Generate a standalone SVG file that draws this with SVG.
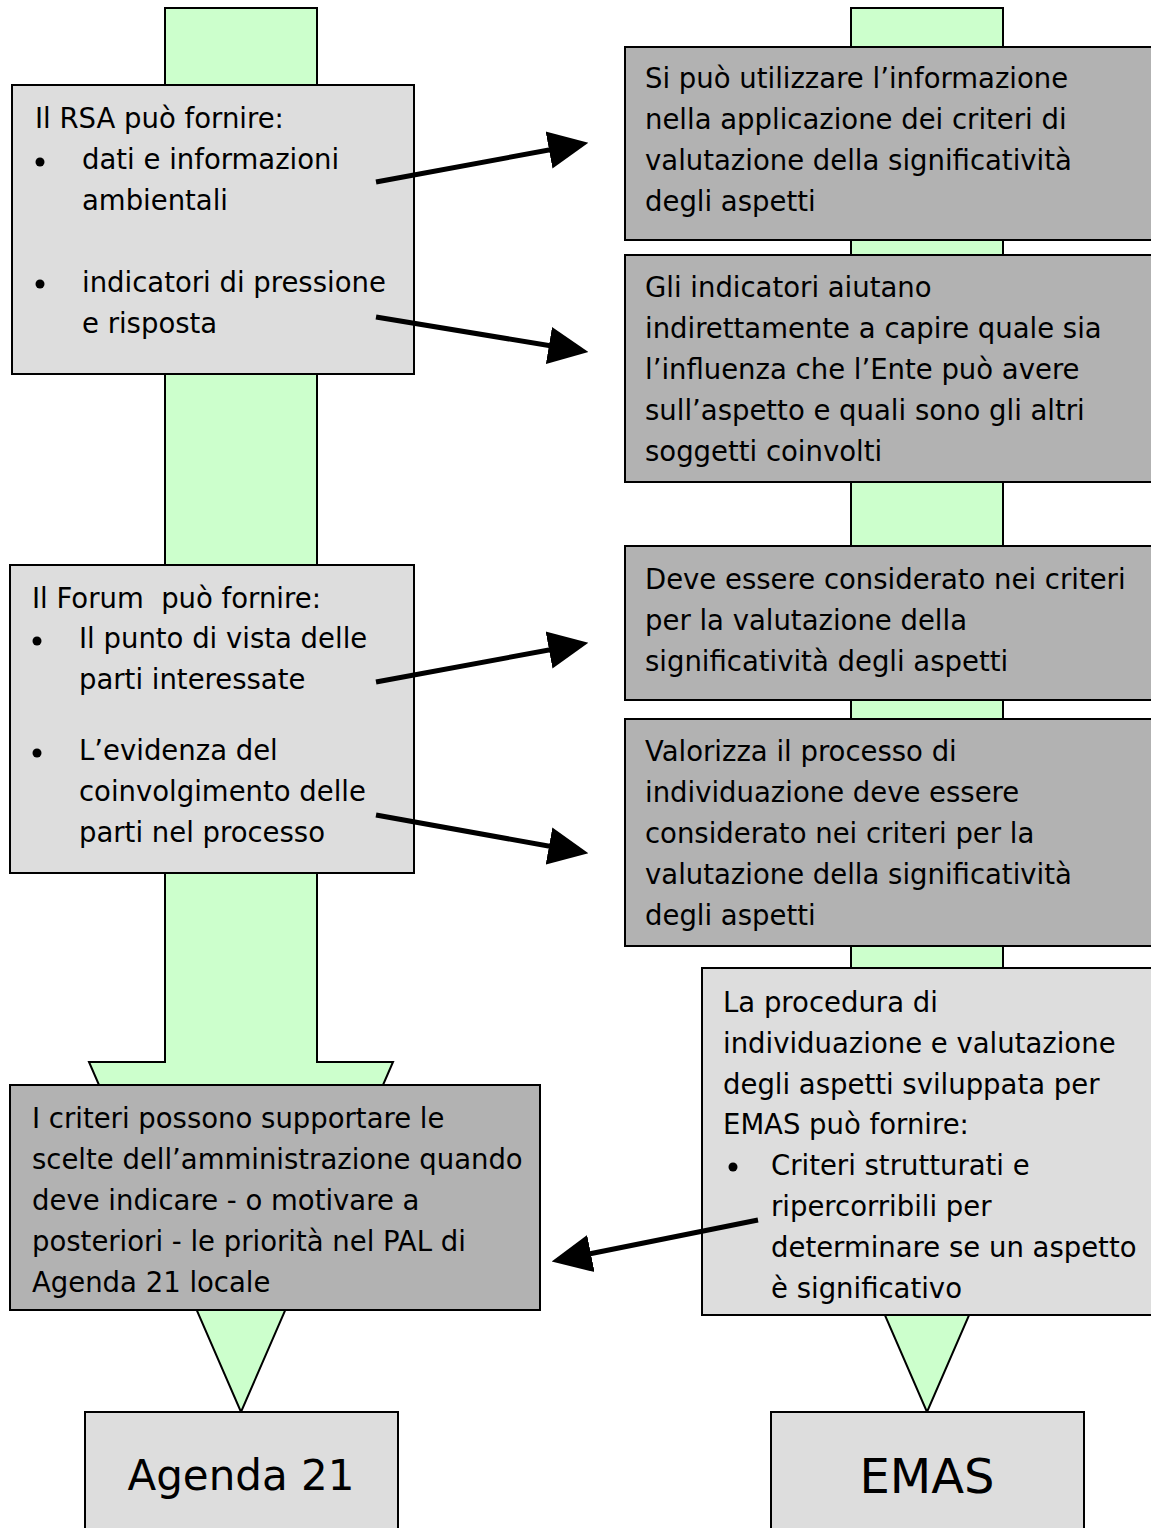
<svg xmlns="http://www.w3.org/2000/svg" width="1151" height="1528" viewBox="0 0 1151 1528">
  <style>
    .flow { fill: #ccffcc; stroke: #000; stroke-width: 2; stroke-linejoin: miter; }
    .light { fill: #dddddd; stroke: #000; stroke-width: 2; }
    .dark { fill: #b2b2b2; stroke: #000; stroke-width: 2; }
    .txt { font-family: "Comic Sans MS", "DejaVu Sans", sans-serif; font-size: 27.5px; fill: #000; white-space: pre; }
    .big { font-family: "Comic Sans MS", "DejaVu Sans", sans-serif; fill: #000; text-anchor: middle; }
    .dot { fill: #000; }
    .link { stroke: #000; stroke-width: 5; fill: none; marker-end: url(#head); }
  </style>
  <defs>
    <marker id="head" markerUnits="userSpaceOnUse" markerWidth="40" markerHeight="40" viewBox="0 0 35 33" refX="24" refY="16.5" orient="auto">
      <path d="M0,0 L35,16.5 L0,33 Z" fill="#000"/>
    </marker>
  </defs>

  <!-- wide flow arrows behind the boxes -->
  <g id="flow-agenda21">
    <polygon class="flow" points="165,8 317,8 317,1062 393,1062 241,1412 89,1062 165,1062"/>
  </g>
  <g id="flow-emas">
    <polygon class="flow" points="851,8 1003,8 1003,1062 1079,1062 927,1412 775,1062 851,1062"/>
  </g>

  <!-- left column -->
  <g id="rsa">
    <rect class="light" x="12" y="85" width="402" height="289"/>
    <text class="txt" x="35" y="128">Il RSA può fornire:</text>
    <circle class="dot" cx="40" cy="162" r="4.5"/>
    <text class="txt" x="82" y="169">dati e informazioni</text>
    <text class="txt" x="82" y="210">ambientali</text>
    <circle class="dot" cx="40" cy="284" r="4.5"/>
    <text class="txt" x="82" y="292">indicatori di pressione</text>
    <text class="txt" x="82" y="333">e risposta</text>
  </g>

  <g id="forum">
    <rect class="light" x="10" y="565" width="404" height="308"/>
    <text class="txt" x="32" y="608" xml:space="preserve">Il Forum  può fornire:</text>
    <circle class="dot" cx="37" cy="641" r="4.5"/>
    <text class="txt" x="79" y="648">Il punto di vista delle</text>
    <text class="txt" x="79" y="689">parti interessate</text>
    <circle class="dot" cx="37" cy="753" r="4.5"/>
    <text class="txt" x="79" y="760">L’evidenza del</text>
    <text class="txt" x="79" y="801">coinvolgimento delle</text>
    <text class="txt" x="79" y="842">parti nel processo</text>
  </g>

  <g id="criteri-pal">
    <rect class="dark" x="10" y="1085" width="530" height="225"/>
    <text class="txt" x="32" y="1128">I criteri possono supportare le</text>
    <text class="txt" x="32" y="1169">scelte dell’amministrazione quando</text>
    <text class="txt" x="32" y="1210">deve indicare - o motivare a</text>
    <text class="txt" x="32" y="1251">posteriori - le priorità nel PAL di</text>
    <text class="txt" x="32" y="1292">Agenda 21 locale</text>
  </g>

  <g id="agenda21">
    <rect class="light" x="85" y="1412" width="313" height="130"/>
    <text class="big" x="241" y="1490" font-size="42">Agenda 21</text>
  </g>

  <!-- right column -->
  <g id="uso-informazione">
    <rect class="dark" x="625" y="47" width="535" height="193"/>
    <text class="txt" x="645" y="88">Si può utilizzare l’informazione</text>
    <text class="txt" x="645" y="129">nella applicazione dei criteri di</text>
    <text class="txt" x="645" y="170">valutazione della significatività</text>
    <text class="txt" x="645" y="211">degli aspetti</text>
  </g>

  <g id="indicatori">
    <rect class="dark" x="625" y="255" width="535" height="227"/>
    <text class="txt" x="645" y="297">Gli indicatori aiutano</text>
    <text class="txt" x="645" y="338">indirettamente a capire quale sia</text>
    <text class="txt" x="645" y="379">l’influenza che l’Ente può avere</text>
    <text class="txt" x="645" y="420">sull’aspetto e quali sono gli altri</text>
    <text class="txt" x="645" y="461">soggetti coinvolti</text>
  </g>

  <g id="punto-di-vista">
    <rect class="dark" x="625" y="546" width="535" height="154"/>
    <text class="txt" x="645" y="589">Deve essere considerato nei criteri</text>
    <text class="txt" x="645" y="630">per la valutazione della</text>
    <text class="txt" x="645" y="671">significatività degli aspetti</text>
  </g>

  <g id="coinvolgimento">
    <rect class="dark" x="625" y="719" width="535" height="227"/>
    <text class="txt" x="645" y="761">Valorizza il processo di</text>
    <text class="txt" x="645" y="802">individuazione deve essere</text>
    <text class="txt" x="645" y="843">considerato nei criteri per la</text>
    <text class="txt" x="645" y="884">valutazione della significatività</text>
    <text class="txt" x="645" y="925">degli aspetti</text>
  </g>

  <g id="procedura-emas">
    <rect class="light" x="702" y="968" width="458" height="347"/>
    <text class="txt" x="723" y="1012">La procedura di</text>
    <text class="txt" x="723" y="1053">individuazione e valutazione</text>
    <text class="txt" x="723" y="1094">degli aspetti sviluppata per</text>
    <text class="txt" x="723" y="1134">EMAS può fornire:</text>
    <circle class="dot" cx="733" cy="1167" r="4.5"/>
    <text class="txt" x="771" y="1175">Criteri strutturati e</text>
    <text class="txt" x="771" y="1216">ripercorribili per</text>
    <text class="txt" x="771" y="1257">determinare se un aspetto</text>
    <text class="txt" x="771" y="1298">è significativo</text>
  </g>

  <g id="emas">
    <rect class="light" x="771" y="1412" width="313" height="130"/>
    <text class="big" x="927" y="1493" font-size="48">EMAS</text>
  </g>

  <!-- connectors -->
  <g id="connectors">
    <line class="link" x1="376" y1="182" x2="576" y2="145"/>
    <line class="link" x1="376" y1="317" x2="576" y2="350"/>
    <line class="link" x1="376" y1="682" x2="576" y2="645"/>
    <line class="link" x1="376" y1="815" x2="576" y2="851"/>
    <line class="link" x1="758" y1="1220" x2="564" y2="1259"/>
  </g>
</svg>
